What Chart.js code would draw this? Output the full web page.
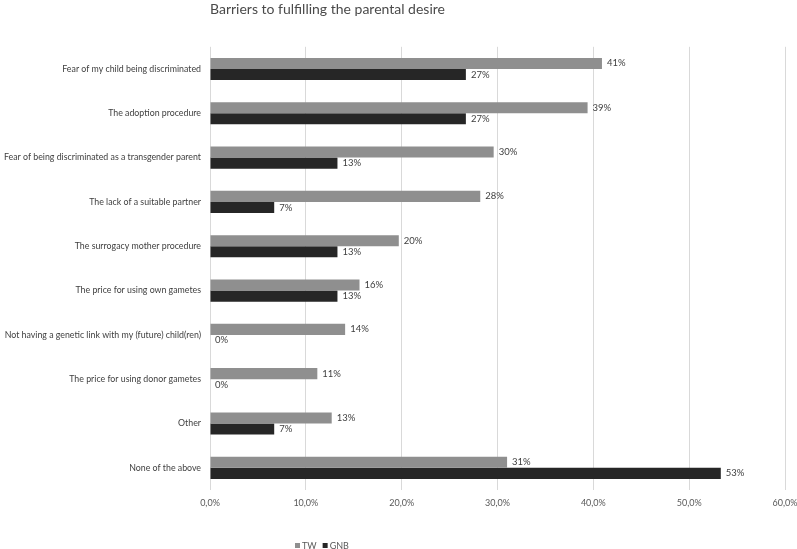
<!DOCTYPE html>
<html><head><meta charset="utf-8">
<script src="https://cdn.jsdelivr.net/npm/chart.js@4/dist/chart.umd.min.js"></script>
<style>html,body{margin:0;padding:0;background:#fff}#wrap{width:797px;height:549px;position:relative}</style>
</head><body><div id="wrap"><canvas id="c" width="797" height="549"></canvas></div>
<script>
const categories = [
  'Fear of my child being discriminated',
  'The adoption procedure',
  'Fear of being discriminated as a transgender parent',
  'The lack of a suitable partner',
  'The surrogacy mother procedure',
  'The price for using own gametes',
  'Not having a genetic link with my (future) child(ren)',
  'The price for using donor gametes',
  'Other',
  'None of the above'
];
const twValues  = [40.9, 39.4, 29.6, 28.2, 19.7, 15.6, 14.1, 11.2, 12.7, 31.0];
const gnbValues = [26.7, 26.7, 13.3, 6.7, 13.3, 13.3, 0, 0, 6.7, 53.3];
const seriesNames = ['TW', 'GNB'];
const seriesColors = ['#8f8f8f', '#262626'];
const xTickValues = [0, 10, 20, 30, 40, 50, 60];
const chartTitle = 'Barriers to fulfilling the parental desire';

const FONT = 'Lato, "Open Sans", sans-serif';

const valueLabels = {
  id: 'valueLabels',
  afterDatasetsDraw(chart) {
    const ctx = chart.ctx;
    ctx.save();
    ctx.font = '9.5px ' + FONT;
    ctx.fillStyle = '#404040';
    ctx.textAlign = 'left';
    ctx.textBaseline = 'middle';
    chart.data.datasets.forEach((ds, di) => {
      const meta = chart.getDatasetMeta(di);
      meta.data.forEach((bar, i) => {
        ctx.fillText(Math.round(ds.data[i]) + '%', bar.x + 5, bar.y);
      });
    });
    ctx.restore();
  }
};

const customLegend = {
  id: 'customLegend',
  afterDraw(chart) {
    const ctx = chart.ctx;
    ctx.save();
    ctx.font = '9px ' + FONT;
    ctx.textBaseline = 'middle';
    ctx.textAlign = 'left';
    let x = 295;
    const y = 546;
    chart.data.datasets.forEach((ds) => {
      ctx.fillStyle = ds.backgroundColor;
      ctx.fillRect(x, y - 3, 5, 5);
      x += 7;
      ctx.fillStyle = '#595959';
      ctx.fillText(ds.label, x, y);
      x += ctx.measureText(ds.label).width + 6;
    });
    ctx.restore();
  }
};

new Chart(document.getElementById('c'), {
  type: 'bar',
  data: {
    labels: categories,
    datasets: [
      { label: seriesNames[0], data: twValues, backgroundColor: seriesColors[0] },
      { label: seriesNames[1], data: gnbValues, backgroundColor: seriesColors[1] }
    ]
  },
  options: {
    indexAxis: 'y',
    responsive: false,
    animation: false,
    devicePixelRatio: 1,
    layout: { padding: { left: 0, right: 12, top: 0, bottom: 0 } },
    datasets: { bar: { categoryPercentage: 0.5, barPercentage: 1.0 } },
    plugins: {
      legend: { display: false },
      tooltip: { enabled: false },
      title: {
        display: true,
        text: chartTitle,
        align: 'start',
        fullSize: false,
        color: '#4a4a4a',
        font: { family: FONT, size: 14, weight: 'normal', lineHeight: 1.2 },
        padding: { top: 1, bottom: 29 }
      }
    },
    scales: {
      x: {
        min: 0, max: 60,
        afterBuildTicks(s) { s.ticks = xTickValues.map(v => ({ value: v })); },
        afterFit(s) { s.height = 59; s.paddingRight = 0; s.paddingLeft = 0; },
        ticks: {
          callback: v => v.toFixed(1).replace('.', ',') + '%',
          color: '#595959',
          font: { family: FONT, size: 9 },
          padding: 8,
          maxRotation: 0
        },
        grid: { color: '#d9d9d9', drawTicks: false },
        border: { display: false }
      },
      y: {
        afterFit(s) { s.width = 210; },
        ticks: {
          color: '#404040',
          font: { family: FONT, size: 8.8 },
          padding: 9,
          autoSkip: false
        },
        grid: { display: false, drawTicks: false },
        border: { display: false }
      }
    }
  },
  plugins: [valueLabels, customLegend]
});
</script>
</body></html>
